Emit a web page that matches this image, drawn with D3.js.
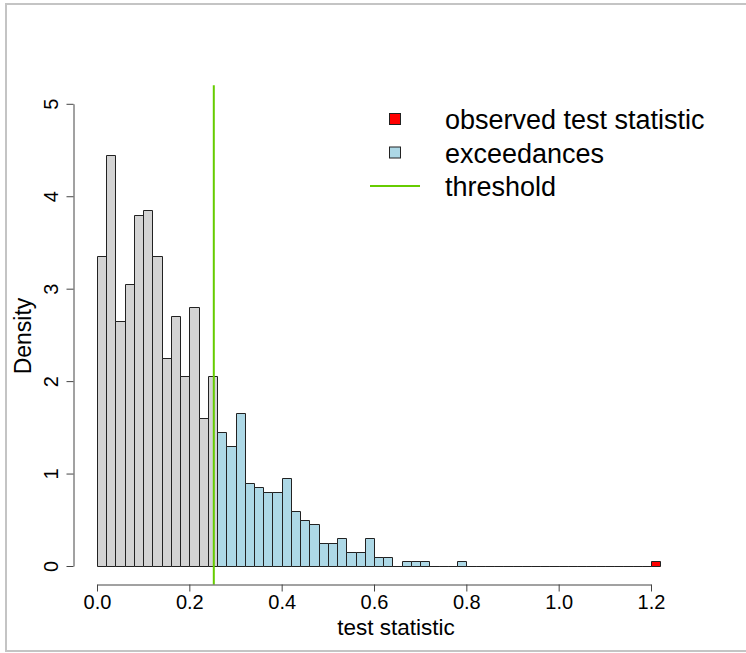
<!DOCTYPE html>
<html>
<head>
<meta charset="utf-8">
<script src="https://cdn.jsdelivr.net/npm/d3@7"></script>
<style>
  html, body { margin: 0; padding: 0; background: #fff; }
  svg { display: block; font-family: "Liberation Sans", Arial, sans-serif; }
</style>
</head>
<body>
<svg id="chart" width="746" height="653"></svg>
<script>
// Histogram bins (width 0.02, starting at 0.0), density per bin
const BIN_WIDTH = 0.02;
const densities = [
  3.35, 4.45, 2.65, 3.05, 3.8, 3.85, 3.35, 2.25, 2.7, 2.05,
  2.8, 1.6, 2.05, 1.45, 1.3, 1.65, 0.9, 0.85, 0.8, 0.8,
  0.95, 0.6, 0.5, 0.45, 0.25, 0.25, 0.3, 0.15, 0.15, 0.3,
  0.1, 0.1, 0, 0.05, 0.05, 0.05, 0, 0, 0, 0.05,
  0, 0, 0, 0, 0, 0, 0, 0, 0, 0,
  0, 0, 0, 0, 0, 0, 0, 0, 0, 0,
  0.05
];
const threshold = 0.253;
const observed = 1.21;

const xTicks = [0, 0.2, 0.4, 0.6, 0.8, 1.0, 1.2];
const yTicks = [0, 1, 2, 3, 4, 5];

const legendItems = [
  { label: 'observed test statistic', kind: 'box', fill: '#ff0000' },
  { label: 'exceedances', kind: 'box', fill: '#add8e6' },
  { label: 'threshold', kind: 'line', fill: '#66cc00' }
];

const GREY = '#d3d3d3';
const BLUE = '#add8e6';
const RED = '#ff0000';
const GREEN = '#66cc00';
const AXIS_COLOR = '#444';

const svg = d3.select('#chart');

const x = d3.scaleLinear().domain([0, 1.2]).range([97, 651]);
const y = d3.scaleLinear().domain([0, 5]).range([566, 103.8]);

const bins = densities.map((d, i) => {
  const x0 = +(i * BIN_WIDTH).toFixed(2);
  const x1 = +((i + 1) * BIN_WIDTH).toFixed(2);
  let fill = GREY;
  if (observed >= x0 && observed < x1) fill = RED;
  else if (x0 >= threshold) fill = BLUE;
  return { x0, x1, density: d, fill };
});

// Figure frame
svg.append('path')
    .attr('d', 'M746,4H6V651H746')
    .attr('fill', 'none')
    .attr('stroke', '#c4c4c4')
    .attr('stroke-width', 2);

// Bars (zero height bins still leave their bottom edge)
svg.append('g')
    .attr('class', 'bars')
  .selectAll('path')
  .data(bins)
  .join('path')
    .attr('d', b => {
      const l = Math.round(x(b.x0)) + 0.5;
      const r = Math.round(x(b.x1)) + 0.5;
      const base = Math.round(y(0)) + 0.5;
      const top = Math.round(y(b.density)) + 0.5;
      return `M${l},${base}V${top}H${r}V${base}Z`;
    })
    .attr('fill', b => b.fill)
    .attr('stroke', '#222')
    .attr('stroke-width', 1);

// Threshold line spans the plot region
svg.append('line')
    .attr('x1', x(threshold))
    .attr('x2', x(threshold))
    .attr('y1', y(5.2))
    .attr('y2', y(-0.2))
    .attr('stroke', GREEN)
    .attr('stroke-width', 2);

// X axis
const xAxis = svg.append('g')
    .attr('transform', `translate(0,${Math.round(y(-0.2)) + 0.5})`)
    .call(d3.axisBottom(x)
      .tickValues(xTicks)
      .tickFormat(d3.format('.1f'))
      .tickSize(7)
      .tickSizeOuter(0)
      .tickPadding(3.5));

// Y axis with labels turned parallel to the axis
const yAxis = svg.append('g')
    .attr('transform', 'translate(73.5,0)')
    .call(d3.axisLeft(y)
      .tickValues(yTicks)
      .tickFormat(d3.format('d'))
      .tickSize(7)
      .tickSizeOuter(0));

yAxis.selectAll('.tick text')
    .attr('transform', 'rotate(-90)')
    .attr('x', 0)
    .attr('y', -15.5)
    .attr('dy', 0)
    .attr('text-anchor', 'middle');

[xAxis, yAxis].forEach(axis => {
  axis.attr('font-family', null).attr('font-size', 20);
  axis.select('.domain').attr('stroke', AXIS_COLOR);
  axis.selectAll('.tick line').attr('stroke', AXIS_COLOR);
  axis.selectAll('.tick text').attr('fill', '#000');
});

// Axis titles
svg.append('text')
    .attr('x', 396)
    .attr('y', 635)
    .attr('text-anchor', 'middle')
    .attr('font-size', 22.5)
    .text('test statistic');

svg.append('text')
    .attr('transform', 'translate(30.5,336) rotate(-90)')
    .attr('text-anchor', 'middle')
    .attr('font-size', 23)
    .text('Density');

// Legend
const legend = svg.append('g')
    .attr('class', 'legend')
  .selectAll('g')
  .data(legendItems)
  .join('g')
    .attr('transform', (d, i) => `translate(0,${i * 33.5})`);

legend.filter(d => d.kind === 'box')
  .append('rect')
    .attr('x', 389.5)
    .attr('y', 113.5)
    .attr('width', 11)
    .attr('height', 11)
    .attr('fill', d => d.fill)
    .attr('stroke', '#222')
    .attr('stroke-width', 1);

legend.filter(d => d.kind === 'line')
  .append('line')
    .attr('x1', 370)
    .attr('x2', 420)
    .attr('y1', 119)
    .attr('y2', 119)
    .attr('stroke', d => d.fill)
    .attr('stroke-width', 2);

legend.append('text')
    .attr('x', 445)
    .attr('y', 129)
    .attr('font-size', 27)
    .text(d => d.label);
</script>
</body>
</html>
